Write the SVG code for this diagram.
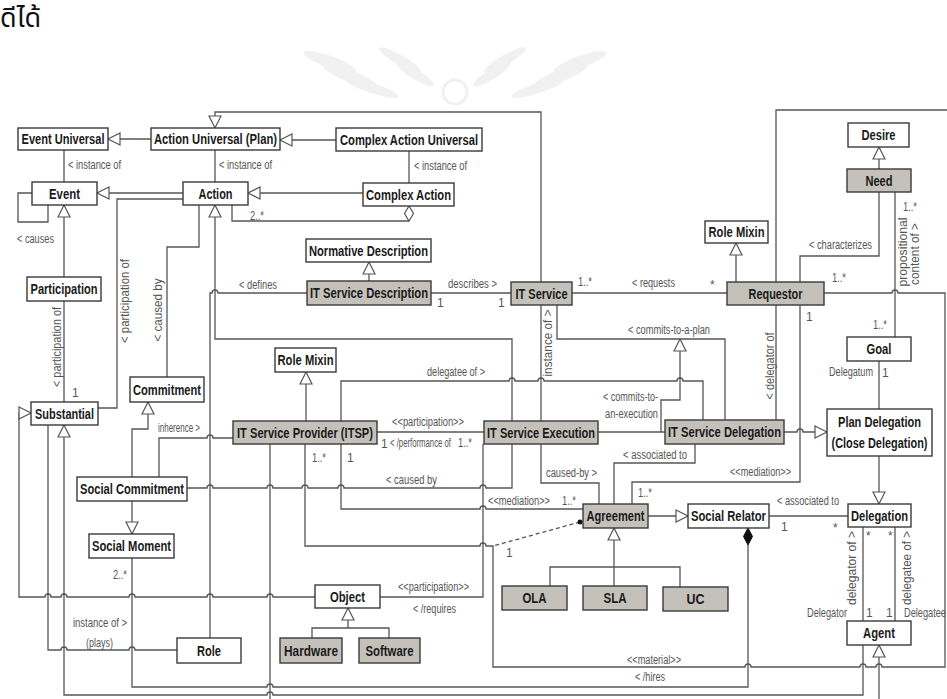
<svg xmlns="http://www.w3.org/2000/svg" width="947" height="699" viewBox="0 0 947 699">
<style>
  .bx{fill:#fff;stroke:#3a3a3a;stroke-width:1.4}
  .gy{fill:#c4c1bb}
  .bt{font-family:"Liberation Sans",Arial,sans-serif;font-weight:bold;font-size:14.5px;fill:#1a1a1a;text-anchor:middle}
  .lb{font-family:"Liberation Sans",Arial,sans-serif;font-size:12px;fill:#555}
  .rt{text-anchor:middle;font-size:13px}
  .cn path{fill:none;stroke:#555;stroke-width:1.3}
  .cn .gen{marker-end:url(#gen)}
  .cn .dash{stroke-dasharray:4 3}
</style>
<defs>
  <marker id="gen" viewBox="0 0 14 14" markerWidth="14" markerHeight="14" refX="12" refY="6.5" orient="auto" markerUnits="userSpaceOnUse" overflow="visible">
    <path d="M0,0.5 L12,6.5 L0,12.5 z" fill="#fff" stroke="#555" stroke-width="1.2"/>
  </marker>
</defs>

<!-- header fragment and faint emblem -->
<text x="0" y="27" font-size="27" font-family="'Noto Sans Thai','Noto Sans','DejaVu Sans',sans-serif" fill="#111">ดีได้</text>
<g id="emblem" fill="#000" opacity="0.05">
  <ellipse cx="330" cy="62" rx="28" ry="6" transform="rotate(20 330 62)"/>
  <ellipse cx="350" cy="76" rx="30" ry="6" transform="rotate(22 350 76)"/>
  <ellipse cx="372" cy="88" rx="28" ry="5" transform="rotate(18 372 88)"/>
  <ellipse cx="400" cy="60" rx="24" ry="5" transform="rotate(30 400 60)"/>
  <ellipse cx="415" cy="74" rx="22" ry="5" transform="rotate(32 415 74)"/>
  <ellipse cx="580" cy="62" rx="28" ry="6" transform="rotate(-20 580 62)"/>
  <ellipse cx="560" cy="76" rx="30" ry="6" transform="rotate(-22 560 76)"/>
  <ellipse cx="538" cy="88" rx="28" ry="5" transform="rotate(-18 538 88)"/>
  <ellipse cx="505" cy="60" rx="24" ry="5" transform="rotate(-30 505 60)"/>
  <ellipse cx="492" cy="74" rx="22" ry="5" transform="rotate(-32 492 74)"/>
  <circle cx="455" cy="92" r="12" fill="none" stroke="#000" stroke-width="3"/>
</g>

<!-- connectors -->
<g id="connectors" class="cn">
  <path class="gen" d="M151,139 H108"/>
  <path class="gen" d="M336,140 H280"/>
  <path d="M64,150 V182"/>
  <path d="M215,150 V182"/>
  <path d="M409,151 V183"/>
  <path class="gen" d="M183,193 H97"/>
  <path class="gen" d="M363,193 H248"/>
  <path class="gen" d="M541,282 V112 H215 V128"/>
  <path d="M32,193 H18 V222 H48 V205"/>
  <path class="gen" d="M64,277 V205"/>
  <path d="M64,301 V402"/>
  <path d="M183,199 H117 V408 H98"/>
  <path d="M199,205 V247 H167 V377"/>
  <path d="M409,221 H232 V205"/>
  <polygon points="409,206 413.5,213.5 409,221 404.5,213.5" fill="#fff" stroke="#555" stroke-width="1.2"/>
  <path class="gen" d="M512,421 V339 H215 V205"/>
  <path class="gen" d="M369,281 V262"/>
  <path d="M431,293 H511"/>
  <path d="M307,293 H218 a3,3 0 0 0 -6,0 H210 V638"/>
  <path d="M572,293 H727"/>
  <path class="gen" d="M736,282 V243"/>
  <path class="gen" d="M879,169 V147"/>
  <path d="M879,192 V256 H800 V282"/>
  <path d="M895,192 V337"/>
  <path d="M824,293 H892 a3,3 0 0 1 6,0 H945 V667 H882 a3,3 0 0 0 -6,0 H866 a3,3 0 0 0 -6,0 H751 a3,3 0 0 0 -6,0 H493 V546 H486 a3,3 0 0 0 -6,0 H305 V444"/>
  <path d="M776,282 V110 H947"/>
  <path d="M776,305 V420"/>
  <path d="M800,305 V482 H632 V504"/>
  <path d="M879,361 V409"/>
  <path class="gen" d="M784,432 H797 a3,3 0 0 1 6,0 H827"/>
  <path class="gen" d="M879,456 V504"/>
  <path d="M541,305 V421"/>
  <path d="M557,305 V339 H725 V420"/>
  <path class="gen" d="M661,432 V400 H680 V339"/>
  <path d="M598,432 H665"/>
  <path d="M341,421 V381 H509 a3,3 0 0 1 6,0 H538 a3,3 0 0 1 6,0 H677 a3,3 0 0 1 6,0 H703 V420"/>
  <path d="M341,444 V509 H480 a3,3 0 0 1 6,0 H583"/>
  <path d="M377,432 H484"/>
  <path class="gen" d="M306,421 V372"/>
  <path class="gen" d="M132,477 V429 H148 V402"/>
  <path d="M159,477 V438 H207 a3,3 0 0 1 6,0 H233"/>
  <path class="gen" d="M132,501 V534"/>
  <path d="M187,488 H207 a3,3 0 0 1 6,0 H267 a3,3 0 0 1 6,0 H302 a3,3 0 0 1 6,0 H338 a3,3 0 0 1 6,0 H480 a3,3 0 0 1 6,0 H512 V444"/>
  <path d="M541,444 V483 H599 V504"/>
  <path d="M695,444 V463 H614 V504"/>
  <path class="gen" d="M648,516 H688"/>
  <path d="M769,516 H848"/>
  <path d="M748,545 V687 H273 a3,3 0 0 0 -6,0 H132 V558"/>
  <polygon points="748,528 752.5,536.5 748,545 743.5,536.5" fill="#111" stroke="#111" stroke-width="1"/>
  <path class="gen" d="M614,567 V528"/>
  <path d="M550,586 V567 H680 V587"/>
  <path d="M614,586 V567"/>
  <path class="gen" d="M348,628 V608"/>
  <path d="M312,638 V628 H389 V638"/>
  <path class="gen" d="M315,597 H273 a3,3 0 0 0 -6,0 H213 a3,3 0 0 0 -6,0 H135 a3,3 0 0 0 -6,0 H67 a3,3 0 0 0 -6,0 H51 a3,3 0 0 0 -6,0 H19 V413 H31"/>
  <path d="M380,597 H483 V444"/>
  <path d="M48,425 V650 H61 a3,3 0 0 1 6,0 H129 a3,3 0 0 1 6,0 H177"/>
  <path class="gen" d="M863,645 V695 H273 a3,3 0 0 0 -6,0 H64 V425"/>
  <path d="M270,444 V699"/>
  <path d="M863,527 V621"/>
  <path d="M895,527 V621"/>
  <path class="gen" d="M879,699 V645"/>
  <path class="dash" d="M580,522 L493,546"/>
  <circle cx="580" cy="522" r="2.5" fill="#111"/>
</g>

<!-- nodes -->
<g id="eventUniversal"><rect class="bx" x="18" y="128" width="90" height="22"/><text class="bt" x="63" y="144" textLength="83" lengthAdjust="spacingAndGlyphs">Event Universal</text></g>
<g id="actionUniversal"><rect class="bx" x="151" y="128" width="129" height="22"/><text class="bt" x="215.5" y="144" textLength="123" lengthAdjust="spacingAndGlyphs">Action Universal (Plan)</text></g>
<g id="complexActionUniversal"><rect class="bx" x="336" y="128" width="146" height="23"/><text class="bt" x="409" y="144.5" textLength="138" lengthAdjust="spacingAndGlyphs">Complex Action Universal</text></g>
<g id="event"><rect class="bx" x="32" y="182" width="65" height="23"/><text class="bt" x="64.5" y="198.5" textLength="31" lengthAdjust="spacingAndGlyphs">Event</text></g>
<g id="action"><rect class="bx" x="183" y="182" width="65" height="23"/><text class="bt" x="215.5" y="198.5" textLength="34" lengthAdjust="spacingAndGlyphs">Action</text></g>
<g id="complexAction"><rect class="bx" x="363" y="183" width="91" height="23"/><text class="bt" x="408.5" y="199.5" textLength="85" lengthAdjust="spacingAndGlyphs">Complex Action</text></g>
<g id="normativeDescription"><rect class="bx" x="306" y="239" width="125" height="23"/><text class="bt" x="368.5" y="255.5" textLength="119" lengthAdjust="spacingAndGlyphs">Normative Description</text></g>
<g id="itServiceDescription"><rect class="bx gy" x="307" y="281" width="124" height="24"/><text class="bt" x="369" y="298" textLength="118" lengthAdjust="spacingAndGlyphs">IT Service Description</text></g>
<g id="itService"><rect class="bx gy" x="511" y="282" width="61" height="23"/><text class="bt" x="541.5" y="298.5" textLength="52" lengthAdjust="spacingAndGlyphs">IT Service</text></g>
<g id="roleMixinRequestor"><rect class="bx" x="705" y="221" width="63" height="22"/><text class="bt" x="736.5" y="237" textLength="56" lengthAdjust="spacingAndGlyphs">Role Mixin</text></g>
<g id="desire"><rect class="bx" x="848" y="123" width="61" height="24"/><text class="bt" x="878.5" y="140" textLength="34" lengthAdjust="spacingAndGlyphs">Desire</text></g>
<g id="need"><rect class="bx gy" x="847" y="169" width="64" height="23"/><text class="bt" x="879" y="185.5" textLength="27" lengthAdjust="spacingAndGlyphs">Need</text></g>
<g id="requestor"><rect class="bx gy" x="727" y="282" width="97" height="23"/><text class="bt" x="775.5" y="298.5" textLength="54" lengthAdjust="spacingAndGlyphs">Requestor</text></g>
<g id="participation"><rect class="bx" x="27" y="277" width="74" height="24"/><text class="bt" x="64" y="294" textLength="67" lengthAdjust="spacingAndGlyphs">Participation</text></g>
<g id="substantial"><rect class="bx" x="31" y="402" width="67" height="23"/><text class="bt" x="64.5" y="418.5" textLength="59" lengthAdjust="spacingAndGlyphs">Substantial</text></g>
<g id="commitment"><rect class="bx" x="130" y="377" width="74" height="25"/><text class="bt" x="167" y="394.5" textLength="68" lengthAdjust="spacingAndGlyphs">Commitment</text></g>
<g id="roleMixinProvider"><rect class="bx" x="275" y="348" width="61" height="24"/><text class="bt" x="305.5" y="365" textLength="56" lengthAdjust="spacingAndGlyphs">Role Mixin</text></g>
<g id="itsp"><rect class="bx gy" x="233" y="421" width="144" height="23"/><text class="bt" x="305" y="437.5" textLength="136" lengthAdjust="spacingAndGlyphs">IT Service Provider (ITSP)</text></g>
<g id="itServiceExecution"><rect class="bx gy" x="484" y="421" width="114" height="23"/><text class="bt" x="541" y="437.5" textLength="108" lengthAdjust="spacingAndGlyphs">IT Service Execution</text></g>
<g id="itServiceDelegation"><rect class="bx gy" x="665" y="420" width="119" height="24"/><text class="bt" x="724.5" y="437" textLength="113" lengthAdjust="spacingAndGlyphs">IT Service Delegation</text></g>
<g id="goal"><rect class="bx" x="847" y="337" width="64" height="24"/><text class="bt" x="879" y="354" textLength="25" lengthAdjust="spacingAndGlyphs">Goal</text></g>
<g id="planDelegation"><rect class="bx" x="827" y="409" width="105" height="47"/><text class="bt" x="879.5" y="427" textLength="83" lengthAdjust="spacingAndGlyphs">Plan Delegation</text><text class="bt" x="879.5" y="448" textLength="96" lengthAdjust="spacingAndGlyphs">(Close Delegation)</text></g>
<g id="socialCommitment"><rect class="bx" x="77" y="477" width="110" height="24"/><text class="bt" x="132" y="494" textLength="104" lengthAdjust="spacingAndGlyphs">Social Commitment</text></g>
<g id="socialMoment"><rect class="bx" x="89" y="534" width="85" height="24"/><text class="bt" x="131.5" y="551" textLength="79" lengthAdjust="spacingAndGlyphs">Social Moment</text></g>
<g id="agreement"><rect class="bx gy" x="583" y="504" width="65" height="24"/><text class="bt" x="615.5" y="521" textLength="58" lengthAdjust="spacingAndGlyphs">Agreement</text></g>
<g id="socialRelator"><rect class="bx" x="688" y="504" width="81" height="24"/><text class="bt" x="728.5" y="521" textLength="75" lengthAdjust="spacingAndGlyphs">Social Relator</text></g>
<g id="delegation"><rect class="bx" x="848" y="504" width="63" height="23"/><text class="bt" x="879.5" y="520.5" textLength="57" lengthAdjust="spacingAndGlyphs">Delegation</text></g>
<g id="ola"><rect class="bx gy" x="502" y="586" width="65" height="24"/><text class="bt" x="534.5" y="603" textLength="24" lengthAdjust="spacingAndGlyphs">OLA</text></g>
<g id="sla"><rect class="bx gy" x="583" y="586" width="64" height="24"/><text class="bt" x="615" y="603" textLength="23" lengthAdjust="spacingAndGlyphs">SLA</text></g>
<g id="uc"><rect class="bx gy" x="663" y="587" width="65" height="24"/><text class="bt" x="695.5" y="604" textLength="18" lengthAdjust="spacingAndGlyphs">UC</text></g>
<g id="object"><rect class="bx" x="315" y="585" width="65" height="23"/><text class="bt" x="347.5" y="601.5" textLength="35" lengthAdjust="spacingAndGlyphs">Object</text></g>
<g id="role"><rect class="bx" x="177" y="638" width="64" height="25"/><text class="bt" x="209" y="655.5" textLength="24" lengthAdjust="spacingAndGlyphs">Role</text></g>
<g id="hardware"><rect class="bx gy" x="280" y="638" width="62" height="25"/><text class="bt" x="311" y="655.5" textLength="54" lengthAdjust="spacingAndGlyphs">Hardware</text></g>
<g id="software"><rect class="bx gy" x="359" y="638" width="61" height="25"/><text class="bt" x="389.5" y="655.5" textLength="48" lengthAdjust="spacingAndGlyphs">Software</text></g>
<g id="agent"><rect class="bx" x="847" y="621" width="64" height="24"/><text class="bt" x="879" y="638" textLength="32" lengthAdjust="spacingAndGlyphs">Agent</text></g>

<!-- connector labels -->
<g id="labels" class="lb">
  <text x="68" y="169" textLength="53" lengthAdjust="spacingAndGlyphs">&lt; instance of</text>
  <text x="219" y="169" textLength="53" lengthAdjust="spacingAndGlyphs">&lt; instance of</text>
  <text x="414" y="170" textLength="53" lengthAdjust="spacingAndGlyphs">&lt; instance of</text>
  <text x="250" y="220" textLength="14" lengthAdjust="spacingAndGlyphs">2..*</text>
  <text x="17" y="243" textLength="37" lengthAdjust="spacingAndGlyphs">&lt; causes</text>
  <text class="rt" transform="translate(57,347) rotate(-90)" y="4" textLength="80" lengthAdjust="spacingAndGlyphs">&lt; participation of</text>
  <text x="72" y="397">1</text>
  <text class="rt" transform="translate(125,301) rotate(-90)" y="4" textLength="84" lengthAdjust="spacingAndGlyphs">&lt; participation of</text>
  <text class="rt" transform="translate(158,310) rotate(-90)" y="4" textLength="63" lengthAdjust="spacingAndGlyphs">&lt; caused by</text>
  <text x="239" y="289" textLength="38" lengthAdjust="spacingAndGlyphs">&lt; defines</text>
  <text x="448" y="288" textLength="49" lengthAdjust="spacingAndGlyphs">describes &gt;</text>
  <text x="437" y="307">1</text>
  <text x="498" y="307">1</text>
  <text x="578" y="286" textLength="14" lengthAdjust="spacingAndGlyphs">1..*</text>
  <text x="632" y="287" textLength="43" lengthAdjust="spacingAndGlyphs">&lt; requests</text>
  <text x="710" y="289">*</text>
  <text x="832" y="282" textLength="14" lengthAdjust="spacingAndGlyphs">1..*</text>
  <text x="809" y="249" textLength="63" lengthAdjust="spacingAndGlyphs">&lt; characterizes</text>
  <text x="903" y="211" textLength="14" lengthAdjust="spacingAndGlyphs">1..*</text>
  <text class="rt" transform="translate(903,252) rotate(-90)" y="4" textLength="69" lengthAdjust="spacingAndGlyphs">propositional</text>
  <text class="rt" transform="translate(915,254) rotate(-90)" y="4" textLength="62" lengthAdjust="spacingAndGlyphs">content of &gt;</text>
  <text x="806" y="321">1</text>
  <text class="rt" transform="translate(548,343) rotate(-90)" y="4" textLength="67" lengthAdjust="spacingAndGlyphs">instance of &gt;</text>
  <text x="427" y="376" textLength="58" lengthAdjust="spacingAndGlyphs">delegatee of &gt;</text>
  <text x="628" y="334" textLength="82" lengthAdjust="spacingAndGlyphs">&lt; commits-to-a-plan</text>
  <text x="603" y="401" textLength="55" lengthAdjust="spacingAndGlyphs">&lt; commits-to-</text>
  <text x="605" y="418" textLength="53" lengthAdjust="spacingAndGlyphs">an-execution</text>
  <text class="rt" transform="translate(770,366) rotate(-90)" y="4" textLength="67" lengthAdjust="spacingAndGlyphs">&lt; delegator of</text>
  <text x="392" y="426" textLength="72" lengthAdjust="spacingAndGlyphs">&lt;&lt;participation&gt;&gt;</text>
  <text x="381" y="448">1</text>
  <text x="390" y="447" textLength="61" lengthAdjust="spacingAndGlyphs">&lt; /performance of</text>
  <text x="458" y="447" textLength="14" lengthAdjust="spacingAndGlyphs">1..*</text>
  <text x="312" y="462" textLength="14" lengthAdjust="spacingAndGlyphs">1..*</text>
  <text x="347" y="462">1</text>
  <text x="158" y="432" textLength="42" lengthAdjust="spacingAndGlyphs">inherence &gt;</text>
  <text x="386" y="484" textLength="51" lengthAdjust="spacingAndGlyphs">&lt; caused by</text>
  <text x="546" y="477" textLength="51" lengthAdjust="spacingAndGlyphs">caused-by &gt;</text>
  <text x="623" y="459" textLength="64" lengthAdjust="spacingAndGlyphs">&lt; associated to</text>
  <text x="730" y="476" textLength="61" lengthAdjust="spacingAndGlyphs">&lt;&lt;mediation&gt;&gt;</text>
  <text x="638" y="497" textLength="14" lengthAdjust="spacingAndGlyphs">1..*</text>
  <text x="488" y="505" textLength="62" lengthAdjust="spacingAndGlyphs">&lt;&lt;mediation&gt;&gt;</text>
  <text x="562" y="505" textLength="14" lengthAdjust="spacingAndGlyphs">1..*</text>
  <text x="829" y="376" textLength="44" lengthAdjust="spacingAndGlyphs">Delegatum</text>
  <text x="882" y="377">1</text>
  <text x="873" y="329" textLength="14" lengthAdjust="spacingAndGlyphs">1..*</text>
  <text x="777" y="505" textLength="62" lengthAdjust="spacingAndGlyphs">&lt; associated to</text>
  <text x="781" y="531">1</text>
  <text x="833" y="532">*</text>
  <text class="rt" transform="translate(852,568) rotate(-90)" y="4" textLength="74" lengthAdjust="spacingAndGlyphs">delegator of &gt;</text>
  <text class="rt" transform="translate(907,568) rotate(-90)" y="4" textLength="74" lengthAdjust="spacingAndGlyphs">delegatee of &gt;</text>
  <text x="866" y="540">*</text>
  <text x="888" y="540">*</text>
  <text x="866" y="617">1</text>
  <text x="886" y="617">1</text>
  <text x="807" y="617" textLength="40" lengthAdjust="spacingAndGlyphs">Delegator</text>
  <text x="904" y="617" textLength="42" lengthAdjust="spacingAndGlyphs">Delegatee</text>
  <text x="506" y="557">1</text>
  <text x="398" y="591" textLength="71" lengthAdjust="spacingAndGlyphs">&lt;&lt;participation&gt;&gt;</text>
  <text x="413" y="613" textLength="43" lengthAdjust="spacingAndGlyphs">&lt; /requires</text>
  <text x="113" y="579" textLength="14" lengthAdjust="spacingAndGlyphs">2..*</text>
  <text x="73" y="627" textLength="54" lengthAdjust="spacingAndGlyphs">instance of &gt;</text>
  <text x="86" y="647" textLength="27" lengthAdjust="spacingAndGlyphs">(plays)</text>
  <text x="627" y="664" textLength="54" lengthAdjust="spacingAndGlyphs">&lt;&lt;material&gt;&gt;</text>
  <text x="635" y="681" textLength="30" lengthAdjust="spacingAndGlyphs">&lt; /hires</text>
</g>
</svg>
